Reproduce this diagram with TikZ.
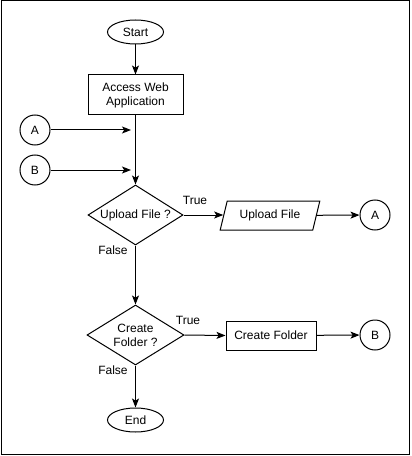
\documentclass[tikz,border=0pt]{standalone}
\usepackage{fontspec}
\setmainfont{Liberation Sans}
\usetikzlibrary{shapes.geometric,arrows.meta}
\begin{document}
\begin{tikzpicture}[x=0.75pt,y=-0.75pt,
  font=\fontsize{9pt}{10.5pt}\selectfont, line width=0.75pt,
  every node/.style={inner sep=0pt, align=center},
  term/.style={draw, ellipse, minimum width=42pt, minimum height=18pt},
  procbox/.style={draw, rectangle, minimum height=21.75pt},
  conncirc/.style={draw, circle, minimum size=22.5pt},
  decision/.style={draw, diamond, minimum height=45pt, shape aspect=1.6},
  iobox/.style={draw, trapezium, trapezium left angle=66, trapezium right angle=114,
    trapezium stretches=true, minimum width=75pt, minimum height=21.75pt},
  flow/.style={-{Stealth[length=6.75pt,width=5.25pt,inset=1.6pt]}},
  lbl/.style={}]
\useasboundingbox (0,0) rectangle (411,456);
\draw (1,1) rectangle (409,454);

\node[term] (start) at (135.5,32) {Start};
\node[procbox, minimum width=71.25pt, minimum height=30pt] (access) at (135.5,95) {Access Web\\Application};
\node[conncirc] (a1) at (35,130) {A};
\node[conncirc] (b1) at (35,170) {B};
\coordinate (aend) at (131,130);
\coordinate (bend) at (131,170);
\node[decision, minimum width=71.25pt] (upload) at (135.5,215) {Upload File ?};
\node[iobox] (upfile) at (270,215.5) {Upload File};
\node[conncirc] (a2) at (375,215) {A};
\node[decision, minimum width=72.75pt] (create) at (135.5,335) {Create\\Folder ?};
\node[procbox, minimum width=67.5pt] (cfolder) at (271,335.5) {Create Folder};
\node[conncirc] (b2) at (375,335) {B};
\node[term] (end) at (135.5,420) {End};

\node[lbl] (t1) at (195,200) {True};
\node[lbl] (f1) at (113,250) {False};
\node[lbl] (t2) at (188,320) {True};
\node[lbl] (f2) at (113,370) {False};

\draw[flow] (start) -- (access);
\draw[flow] (access) -- (upload);
\draw[flow] (a1) -- (aend);
\draw[flow] (b1) -- (bend);
\draw[flow] (upload.east) -- (upfile.west |- upload.east);
\draw[flow] (upfile) -- (a2);
\draw[flow] (upload) -- (create);
\draw[flow] (create.east) -- (cfolder.west);
\draw[flow] (cfolder) -- (b2);
\draw[flow] (create) -- (end);
\end{tikzpicture}
\end{document}
